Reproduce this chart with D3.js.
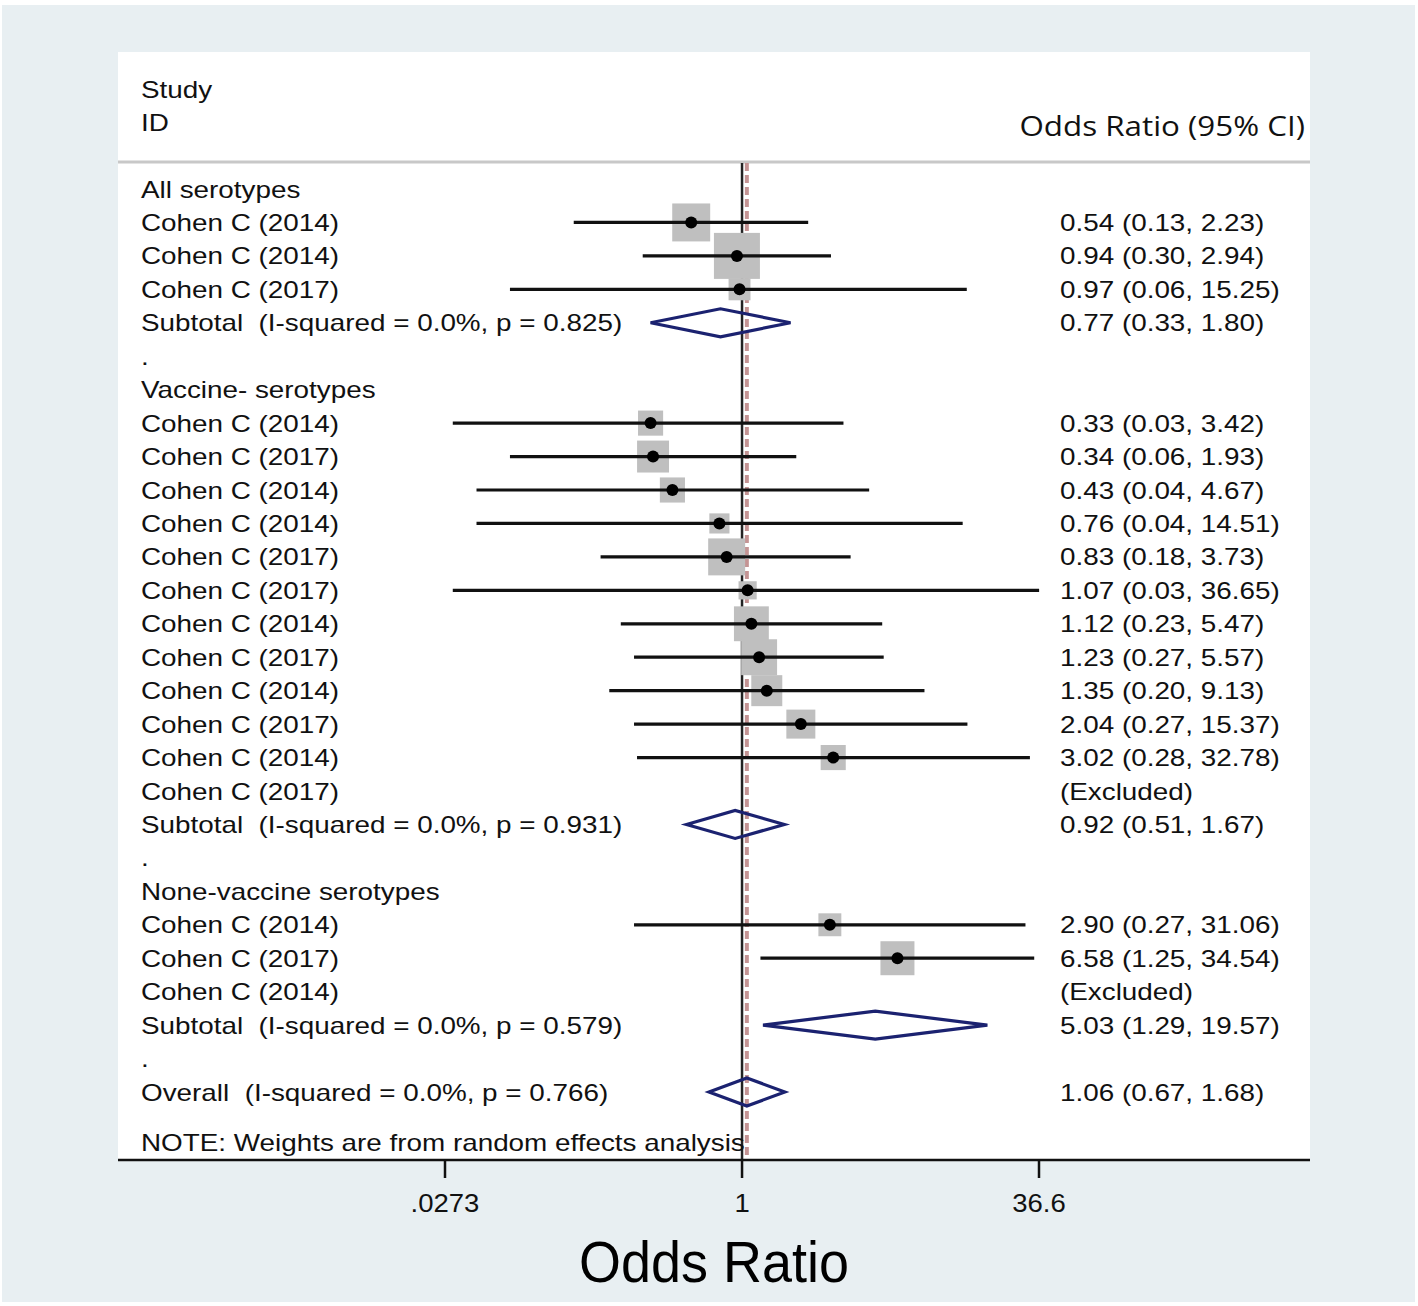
<!DOCTYPE html>
<html>
<head>
<meta charset="utf-8">
<script src="https://cdn.jsdelivr.net/npm/d3@7"></script>
<style>
  html, body { margin: 0; padding: 0; background: #ffffff; }
  svg { display: block; }
  text { white-space: pre; }
</style>
</head>
<body>
<div id="chart"></div>
<script>
// ---------------- DATA ----------------
const rowLabels = [
  "All serotypes",
  "Cohen C (2014)", "Cohen C (2014)", "Cohen C (2017)",
  "Subtotal  (I-squared = 0.0%, p = 0.825)",
  ".",
  "Vaccine- serotypes",
  "Cohen C (2014)", "Cohen C (2017)", "Cohen C (2014)", "Cohen C (2014)",
  "Cohen C (2017)", "Cohen C (2017)", "Cohen C (2014)", "Cohen C (2017)",
  "Cohen C (2014)", "Cohen C (2017)", "Cohen C (2014)", "Cohen C (2017)",
  "Subtotal  (I-squared = 0.0%, p = 0.931)",
  ".",
  "None-vaccine serotypes",
  "Cohen C (2014)", "Cohen C (2017)", "Cohen C (2014)",
  "Subtotal  (I-squared = 0.0%, p = 0.579)",
  ".",
  "Overall  (I-squared = 0.0%, p = 0.766)"
];
const rowTypes = [
  "head", "study", "study", "study", "pooled", "gap",
  "head", "study", "study", "study", "study", "study", "study", "study", "study",
  "study", "study", "study", "excluded", "pooled", "gap",
  "head", "study", "study", "excluded", "pooled", "gap", "pooled"
];
const oddsRatio = [
  null, 0.54, 0.94, 0.97, 0.77, null,
  null, 0.33, 0.34, 0.43, 0.76, 0.83, 1.07, 1.12, 1.23, 1.35, 2.04, 3.02, null, 0.92, null,
  null, 2.90, 6.58, null, 5.03, null, 1.06
];
const ciLower = [
  null, 0.13, 0.30, 0.06, 0.33, null,
  null, 0.03, 0.06, 0.04, 0.04, 0.18, 0.03, 0.23, 0.27, 0.20, 0.27, 0.28, null, 0.51, null,
  null, 0.27, 1.25, null, 1.29, null, 0.67
];
const ciUpper = [
  null, 2.23, 2.94, 15.25, 1.80, null,
  null, 3.42, 1.93, 4.67, 14.51, 3.73, 36.65, 5.47, 5.57, 9.13, 15.37, 32.78, null, 1.67, null,
  null, 31.06, 34.54, null, 19.57, null, 1.68
];
// approximate study weights (%), read from the relative box areas
const weights = [
  null, 9.6, 14.1, 3.2, null, null,
  null, 4.2, 6.8, 4.2, 2.7, 9.1, 2.2, 8.1, 8.6, 6.4, 5.6, 4.2, null, null, null,
  null, 3.5, 7.7, null, null, null, null
];
const tickValues = [0.0273, 1, 36.6];
const tickLabels = [".0273", "1", "36.6"];
const overallOR = 1.06;

// ---------------- LAYOUT ----------------
const W = 1418, H = 1306;
const panel = { x0: 118, x1: 1310, y0: 52, y1: 1160 };
const svg = d3.select("#chart").append("svg").attr("width", W).attr("height", H);

svg.append("rect").attr("x", 0).attr("y", 0).attr("width", W).attr("height", H).attr("fill", "#ffffff");
svg.append("rect").attr("x", 2).attr("y", 5).attr("width", 1413).attr("height", 1297).attr("fill", "#e8eff2");
svg.append("rect").attr("x", panel.x0).attr("y", panel.y0)
  .attr("width", panel.x1 - panel.x0).attr("height", panel.y1 - panel.y0).attr("fill", "#ffffff");

const x = d3.scaleLog().domain([0.0273, 36.6]).range([445, 1039]);
const y = d3.scalePoint().domain(d3.range(rowLabels.length)).range([189, 1092]);
const boxSize = d3.scaleSqrt().domain([0, 14.1]).range([0, 46]);
const fmt = d3.format(".2f");

const FONT = "'Liberation Sans', Arial, sans-serif";
function stext(sel, str, tx, ty, size, sx, anchor, family, fill) {
  return sel.append("text")
    .attr("transform", `translate(${tx},${ty}) scale(${sx},1)`)
    .attr("xml:space", "preserve")
    .attr("text-anchor", anchor || "start")
    .attr("font-family", family || FONT)
    .attr("font-size", size)
    .attr("fill", fill || "#111")
    .text(str);
}

// header
const hdr = svg.append("g");
stext(hdr, "Study", 141, 89 + 8.5, 24, 1.16);
stext(hdr, "ID", 141, 122 + 8.5, 24, 1.16);
stext(hdr, "Odds Ratio (95% CI)", 1305, 126 + 10, 28, 1.12, "end", "'Open Sans', sans-serif");
svg.append("line").attr("x1", panel.x0).attr("x2", panel.x1).attr("y1", 162).attr("y2", 162)
  .attr("stroke", "#c8c8c8").attr("stroke-width", 3);

// reference lines
svg.append("line").attr("x1", x(1)).attr("x2", x(1)).attr("y1", 163).attr("y2", panel.y1)
  .attr("stroke", "#222").attr("stroke-width", 2.5);
svg.append("line").attr("x1", x(overallOR)).attr("x2", x(overallOR)).attr("y1", 163).attr("y2", panel.y1)
  .attr("stroke", "#c49494").attr("stroke-width", 4).attr("stroke-dasharray", "8,4");

const rows = d3.range(rowLabels.length).map(i => ({
  i, label: rowLabels[i], type: rowTypes[i], or: oddsRatio[i], lo: ciLower[i], hi: ciUpper[i], w: weights[i]
}));
const studies = rows.filter(d => d.type === "study");
const pooled = rows.filter(d => d.type === "pooled");

// weight boxes
svg.append("g").selectAll("rect").data(studies).join("rect")
  .attr("x", d => x(d.or) - boxSize(d.w) / 2)
  .attr("y", d => y(d.i) - boxSize(d.w) / 2)
  .attr("width", d => boxSize(d.w))
  .attr("height", d => boxSize(d.w))
  .attr("fill", "#bfbfbf");

// CI lines
svg.append("g").selectAll("line").data(studies).join("line")
  .attr("x1", d => x(d.lo)).attr("x2", d => x(d.hi))
  .attr("y1", d => y(d.i)).attr("y2", d => y(d.i))
  .attr("stroke", "#111").attr("stroke-width", 3.2);

// point estimates
svg.append("g").selectAll("circle").data(studies).join("circle")
  .attr("cx", d => x(d.or)).attr("cy", d => y(d.i)).attr("r", 6)
  .attr("fill", "#000");

// pooled diamonds
svg.append("g").selectAll("path").data(pooled).join("path")
  .attr("d", d => {
    const cy = y(d.i), h = 14;
    return `M${x(d.lo)},${cy}L${x(d.or)},${cy - h}L${x(d.hi)},${cy}L${x(d.or)},${cy + h}Z`;
  })
  .attr("fill", "none").attr("stroke", "#1b2270").attr("stroke-width", 3.2).attr("stroke-linejoin", "miter");

// left labels
const lab = svg.append("g");
rows.forEach(d => {
  stext(lab, d.label, 141, y(d.i) + 8.5, 24, 1.16);
});
// right labels
rows.forEach(d => {
  let s = null;
  if (d.type === "study" || d.type === "pooled") s = `${fmt(d.or)} (${fmt(d.lo)}, ${fmt(d.hi)})`;
  else if (d.type === "excluded") s = "(Excluded)";
  if (s) stext(lab, s, 1060, y(d.i) + 8.5, 24, 1.16);
});
stext(lab, "NOTE: Weights are from random effects analysis", 141, 1142 + 8.5, 24, 1.16);

// axis
const axisG = svg.append("g").attr("transform", `translate(0,${panel.y1})`);
axisG.append("line").attr("x1", panel.x0).attr("x2", panel.x1).attr("y1", 0).attr("y2", 0)
  .attr("stroke", "#111").attr("stroke-width", 2.5);
axisG.selectAll("line.tick").data(tickValues).join("line").attr("class", "tick")
  .attr("x1", d => x(d)).attr("x2", d => x(d)).attr("y1", 0).attr("y2", 18)
  .attr("stroke", "#111").attr("stroke-width", 2.5);
tickValues.forEach((v, k) => {
  stext(axisG, tickLabels[k], x(v), 52, 25, 1.1, "middle");
});
stext(svg, "Odds Ratio", 714, 1282, 58, 0.93, "middle", FONT, "#000");
</script>
</body>
</html>
